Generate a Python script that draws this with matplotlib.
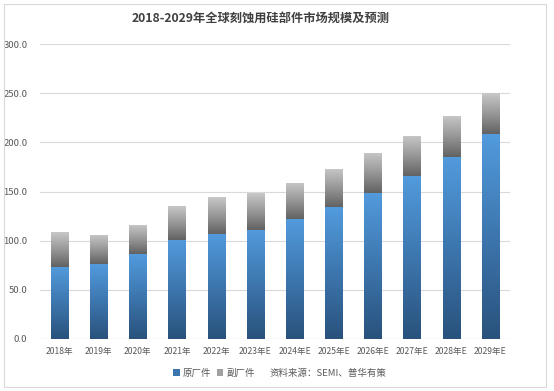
import matplotlib
matplotlib.use("Agg")
import matplotlib.pyplot as plt
import numpy as np
from matplotlib.patches import Rectangle, Patch
from matplotlib.colors import LinearSegmentedColormap

plt.rcParams['font.family'] = ['Noto Sans CJK SC', 'DejaVu Sans']

categories = ["2018年", "2019年", "2020年", "2021年", "2022年", "2023年E",
              "2024年E", "2025年E", "2026年E", "2027年E", "2028年E", "2029年E"]
original = [73.5, 76.0, 86.0, 100.7, 107.0, 110.9, 121.8, 134.0, 148.5, 165.8, 185.5, 208.5]
total = [108.7, 105.6, 115.8, 135.2, 144.2, 148.4, 158.7, 172.9, 189.5, 206.8, 227.2, 250.0]
other = [t - o for t, o in zip(total, original)]
series_names = ["原厂件", "副厂件"]
source_text = "资料来源：SEMI、普华有策"
title = "2018-2029年全球刻蚀用硅部件市场规模及预测"
yticks = [0, 50, 100, 150, 200, 250, 300]

W, H = 554, 391
fig = plt.figure(figsize=(W / 100, H / 100), dpi=100)
fig.patch.set_facecolor("white")
fig.add_artist(Rectangle((4 / W, 4 / H), 542 / W, 383 / H, transform=fig.transFigure,
                         fill=False, edgecolor="#D9D9D9", linewidth=0.8))

ax = fig.add_axes([40 / W, 1 - 339 / H, 470 / W, 295 / H])
x = np.arange(len(categories))
width = 0.44
b1 = ax.bar(x, original, width, color="#4A86C5", label=series_names[0], zorder=2)
b2 = ax.bar(x, other, width, bottom=original, color="#A0A0A0", label=series_names[1], zorder=2)

blue_cmap = LinearSegmentedColormap.from_list("b", ["#29527C", "#3D76AE", "#529BDD"])
gray_cmap = LinearSegmentedColormap.from_list("g", ["#626262", "#979797", "#C8C8C8"])
grad = np.linspace(0, 1, 256).reshape(-1, 1)
for bars, cmap in ((b1, blue_cmap), (b2, gray_cmap)):
    for r in bars:
        x0, y0, w, h = r.get_x(), r.get_y(), r.get_width(), r.get_height()
        im = ax.imshow(grad, cmap=cmap, origin="lower", aspect="auto",
                       extent=(x0, x0 + w, y0, y0 + h), zorder=3)
        im.set_clip_path(r)

ax.set_xlim(-0.5, len(categories) - 0.5)
ax.set_ylim(0, 300)
ax.set_yticks(yticks)
ax.set_yticklabels([f"{v:.1f}" for v in yticks])
ax.set_xticks(x)
ax.set_xticklabels(categories)
ax.tick_params(axis="y", length=0, labelsize=6.8, colors="#595959", pad=9)
ax.tick_params(axis="x", length=0, labelsize=6.2, colors="#595959", pad=6)
ax.grid(axis="y", color="#D9D9D9", linewidth=0.8, zorder=0)
ax.set_axisbelow(True)
for s in ax.spines.values():
    s.set_visible(False)
ax.axhline(0, color="#D9D9D9", linewidth=0.8, zorder=1)

fig.text(0.47, 1 - 18 / H, title, ha="center", va="center", fontsize=8.8,
         fontweight="bold", color="#404040")

handles = [Patch(facecolor="#3D76AE"), Patch(facecolor="#A0A0A0"),
           Patch(facecolor="none", edgecolor="none")]
labels = series_names + [source_text]
fig.legend(handles, labels, loc="center", bbox_to_anchor=(0.505, 1 - 373 / H),
           ncol=3, frameon=False, fontsize=6.8, handlelength=0.7, handleheight=0.7,
           handletextpad=0.3, columnspacing=0.6, labelcolor="#595959")

fig.savefig("out.png", dpi=100, facecolor="white")
